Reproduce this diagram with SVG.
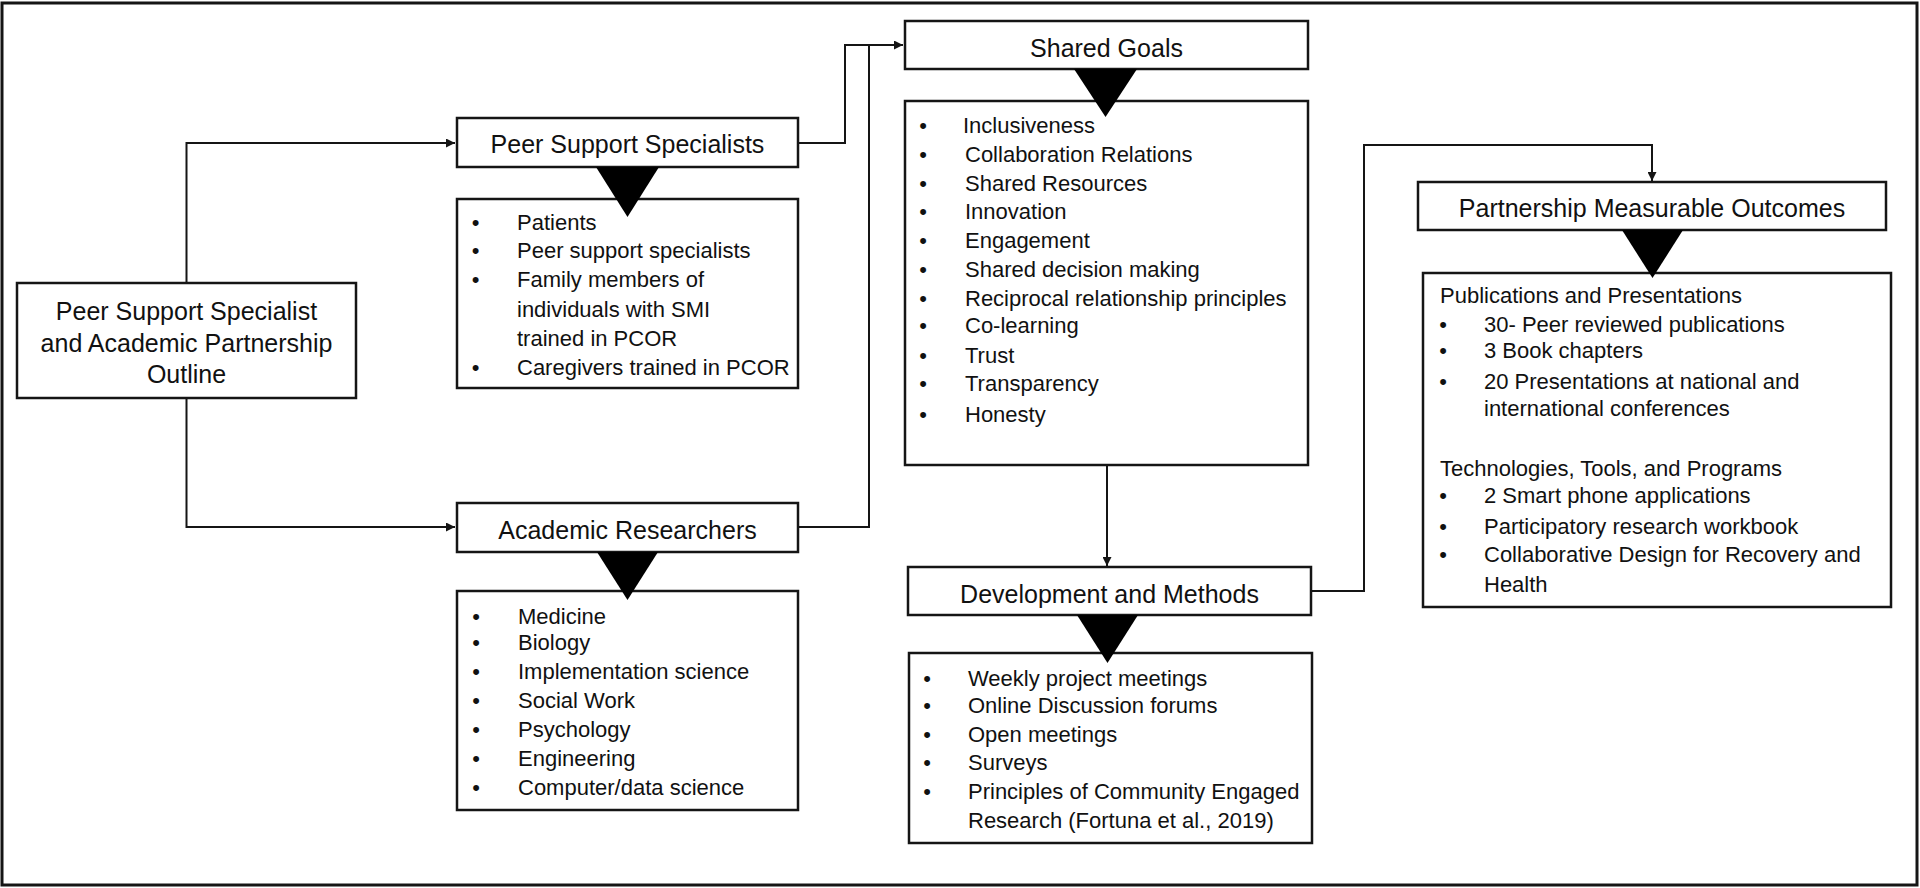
<svg xmlns="http://www.w3.org/2000/svg" width="1920" height="888" viewBox="0 0 1920 888">
<style>
.frame{fill:#fff;stroke:#151515;stroke-width:3}
.box{fill:#fff;stroke:#151515;stroke-width:2.5}
.tri{fill:#000}
.conn{fill:none;stroke:#151515;stroke-width:2}
.hdr{font-family:"Liberation Sans",Arial,sans-serif;font-size:25px;fill:#111;text-anchor:middle}
.li{font-family:"Liberation Sans",Arial,sans-serif;font-size:22px;fill:#111}
.bul{font-family:"Liberation Sans",Arial,sans-serif;font-size:22px;fill:#111;text-anchor:middle}
</style>
<defs>
<marker id="arr" viewBox="0 0 10 10" refX="10" refY="5" markerWidth="10" markerHeight="9" markerUnits="userSpaceOnUse" orient="auto">
<path d="M0,0 L10,5 L0,10 z" fill="#151515"/>
</marker>
</defs>
<rect class="frame" x="2" y="3" width="1915" height="882"/>

<g id="connectors">
<path class="conn" d="M186.5,283 V143 H455" marker-end="url(#arr)"/>
<path class="conn" d="M186.5,398 V527 H455" marker-end="url(#arr)"/>
<path class="conn" d="M798,143 H845 V45 H903" marker-end="url(#arr)"/>
<path class="conn" d="M798,527 H869 V45"/>
<path class="conn" d="M1107,465 V566" marker-end="url(#arr)"/>
<path class="conn" d="M1311,591 H1364 V145 H1652 V181" marker-end="url(#arr)"/>
</g>

<g id="outline">
<rect class="box" x="17" y="283" width="339" height="115"/>
<text class="hdr" x="186.5" y="320">Peer Support Specialist</text>
<text class="hdr" x="186.5" y="351.5">and Academic Partnership</text>
<text class="hdr" x="186.5" y="383">Outline</text>
</g>

<g id="peer-support-specialists">
<rect class="box" x="457" y="118" width="341" height="49"/>
<text class="hdr" x="627.5" y="153">Peer Support Specialists</text>
<rect class="box" x="457" y="199" width="341" height="189"/>
<text class="bul" x="475.5" y="230">•</text><text class="li" x="517" y="230">Patients</text>
<text class="bul" x="475.5" y="258">•</text><text class="li" x="517" y="258">Peer support specialists</text>
<text class="bul" x="475.5" y="287">•</text><text class="li" x="517" y="287">Family members of</text>
<text class="li" x="517" y="317">individuals with SMI</text>
<text class="li" x="517" y="346">trained in PCOR</text>
<text class="bul" x="475.5" y="375">•</text><text class="li" x="517" y="375">Caregivers trained in PCOR</text>
<polygon class="tri" points="596,167 659,167 627.5,217"/>
</g>

<g id="academic-researchers">
<rect class="box" x="457" y="503" width="341" height="49"/>
<text class="hdr" x="627.5" y="539">Academic Researchers</text>
<rect class="box" x="457" y="591" width="341" height="219"/>
<text class="bul" x="476" y="624">•</text><text class="li" x="518" y="624">Medicine</text>
<text class="bul" x="476" y="650">•</text><text class="li" x="518" y="650">Biology</text>
<text class="bul" x="476" y="679">•</text><text class="li" x="518" y="679">Implementation science</text>
<text class="bul" x="476" y="708">•</text><text class="li" x="518" y="708">Social Work</text>
<text class="bul" x="476" y="737">•</text><text class="li" x="518" y="737">Psychology</text>
<text class="bul" x="476" y="766">•</text><text class="li" x="518" y="766">Engineering</text>
<text class="bul" x="476" y="795">•</text><text class="li" x="518" y="795">Computer/data science</text>
<polygon class="tri" points="597,552 658,552 627.5,600"/>
</g>

<g id="shared-goals">
<rect class="box" x="905" y="21" width="403" height="48"/>
<text class="hdr" x="1106.5" y="57">Shared Goals</text>
<rect class="box" x="905" y="101" width="403" height="364"/>
<text class="bul" x="923" y="133">•</text><text class="li" x="963" y="133">Inclusiveness</text>
<text class="bul" x="923" y="162">•</text><text class="li" x="965" y="162">Collaboration Relations</text>
<text class="bul" x="923" y="191">•</text><text class="li" x="965" y="191">Shared Resources</text>
<text class="bul" x="923" y="219">•</text><text class="li" x="965" y="219">Innovation</text>
<text class="bul" x="923" y="248">•</text><text class="li" x="965" y="248">Engagement</text>
<text class="bul" x="923" y="277">•</text><text class="li" x="965" y="277">Shared decision making</text>
<text class="bul" x="923" y="306">•</text><text class="li" x="965" y="306">Reciprocal relationship principles</text>
<text class="bul" x="923" y="333">•</text><text class="li" x="965" y="333">Co-learning</text>
<text class="bul" x="923" y="363">•</text><text class="li" x="965" y="363">Trust</text>
<text class="bul" x="923" y="391">•</text><text class="li" x="965" y="391">Transparency</text>
<text class="bul" x="923" y="422">•</text><text class="li" x="965" y="422">Honesty</text>
<polygon class="tri" points="1074,69 1137,69 1105.5,117"/>
</g>

<g id="development-and-methods">
<rect class="box" x="908" y="567" width="403" height="48"/>
<text class="hdr" x="1109.5" y="603">Development and Methods</text>
<rect class="box" x="909" y="653" width="403" height="190"/>
<text class="bul" x="927" y="686">•</text><text class="li" x="968" y="686">Weekly project meetings</text>
<text class="bul" x="927" y="713">•</text><text class="li" x="968" y="713">Online Discussion forums</text>
<text class="bul" x="927" y="742">•</text><text class="li" x="968" y="742">Open meetings</text>
<text class="bul" x="927" y="770">•</text><text class="li" x="968" y="770">Surveys</text>
<text class="bul" x="927" y="799">•</text><text class="li" x="968" y="799">Principles of Community Engaged</text>
<text class="li" x="968" y="828">Research (Fortuna et al., 2019)</text>
<polygon class="tri" points="1077,615 1138,615 1107.5,663"/>
</g>

<g id="partnership-measurable-outcomes">
<rect class="box" x="1418" y="182" width="468" height="48"/>
<text class="hdr" x="1652" y="217">Partnership Measurable Outcomes</text>
<rect class="box" x="1423" y="273" width="468" height="334"/>
<text class="li" x="1440" y="303">Publications and Presentations</text>
<text class="bul" x="1443" y="332">•</text><text class="li" x="1484" y="332">30- Peer reviewed publications</text>
<text class="bul" x="1443" y="358">•</text><text class="li" x="1484" y="358">3 Book chapters</text>
<text class="bul" x="1443" y="389">•</text><text class="li" x="1484" y="389">20 Presentations at national and</text>
<text class="li" x="1484" y="416">international conferences</text>
<text class="li" x="1440" y="476">Technologies, Tools, and Programs</text>
<text class="bul" x="1443" y="503">•</text><text class="li" x="1484" y="503">2 Smart phone applications</text>
<text class="bul" x="1443" y="534">•</text><text class="li" x="1484" y="534">Participatory research workbook</text>
<text class="bul" x="1443" y="562">•</text><text class="li" x="1484" y="562">Collaborative Design for Recovery and</text>
<text class="li" x="1484" y="592">Health</text>
<polygon class="tri" points="1622,230 1683,230 1652.5,278"/>
</g>
</svg>
